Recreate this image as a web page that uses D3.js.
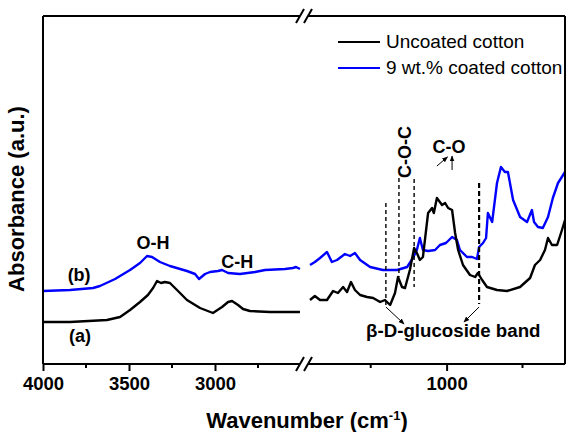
<!DOCTYPE html>
<html>
<head>
<meta charset="utf-8">
<script src="https://cdn.jsdelivr.net/npm/d3@7"></script>
<style>
  body { margin: 0; background: #fff; }
  text { font-family: Arial, "Liberation Sans", sans-serif; }
</style>
</head>
<body>
<svg id="ftir" width="567" height="432"></svg>
<script>
// wavenumber (cm-1) / absorbance (a.u.) pairs
const uncoatedHigh = [
  [4000, 0.42], [3843, 0.42], [3628, 0.44], [3552, 0.47], [3494, 0.54], [3436, 0.62],
  [3390, 0.69], [3360, 0.76], [3337, 0.83], [3314, 0.81], [3291, 0.82], [3262, 0.81],
  [3215, 0.73], [3163, 0.64], [3087, 0.56], [3012, 0.51], [2959, 0.57], [2924, 0.62],
  [2901, 0.63], [2866, 0.59], [2837, 0.55], [2797, 0.53], [2680, 0.52], [2506, 0.52]
];
const coatedHigh = [
  [4000, 0.73], [3843, 0.74], [3709, 0.76], [3669, 0.78], [3581, 0.85], [3494, 0.94],
  [3436, 1.01], [3395, 1.08], [3366, 1.07], [3320, 1.02], [3262, 0.98], [3163, 0.93],
  [3116, 0.90], [3093, 0.85], [3058, 0.90], [3029, 0.92], [2983, 0.93], [2959, 0.94],
  [2924, 0.91], [2855, 0.90], [2767, 0.92], [2709, 0.94], [2593, 0.95], [2547, 0.96],
  [2529, 0.97], [2506, 0.95]
];
const uncoatedLow = [
  [1450, 0.64], [1434, 0.68], [1417, 0.64], [1394, 0.64], [1374, 0.73], [1358, 0.71],
  [1341, 0.77], [1328, 0.72], [1315, 0.82], [1302, 0.74], [1285, 0.69], [1262, 0.67],
  [1242, 0.66], [1219, 0.62], [1203, 0.64], [1186, 0.59], [1170, 0.71], [1160, 0.87],
  [1147, 0.77], [1137, 0.76], [1121, 0.94], [1107, 1.16], [1098, 1.11], [1088, 1.04],
  [1078, 1.07], [1061, 1.51], [1048, 1.56], [1042, 1.51], [1032, 1.66], [1015, 1.59],
  [1005, 1.61], [995, 1.56], [982, 1.54], [972, 1.31], [962, 1.14], [946, 0.99],
  [923, 0.89], [906, 0.87], [897, 0.91], [883, 0.84], [867, 0.77], [834, 0.74],
  [801, 0.73], [758, 0.77], [725, 0.86], [709, 0.99], [692, 1.04], [676, 1.14],
  [666, 1.26], [653, 1.19], [636, 1.19], [620, 1.34], [610, 1.44]
];
const coatedLow = [
  [1450, 0.99], [1434, 1.02], [1417, 1.06], [1394, 1.12], [1378, 1.02], [1361, 1.04],
  [1335, 1.10], [1318, 1.08], [1302, 1.11], [1285, 1.04], [1252, 0.97], [1210, 0.94],
  [1163, 0.94], [1130, 0.97], [1111, 1.06], [1098, 1.14], [1088, 1.26], [1078, 1.14],
  [1061, 1.13], [1038, 1.14], [1022, 1.19], [1002, 1.21], [982, 1.27], [966, 1.24],
  [956, 1.14], [933, 1.07], [916, 1.07], [900, 1.05], [893, 1.17], [880, 1.21],
  [870, 1.26], [864, 1.51], [850, 1.42], [834, 1.81], [821, 1.97], [808, 1.92],
  [798, 1.92], [781, 1.64], [758, 1.47], [735, 1.42], [719, 1.54], [712, 1.42],
  [699, 1.37], [683, 1.36], [666, 1.47], [650, 1.66], [633, 1.81], [610, 1.92]
];

const highTicks = [4000, 3500, 3000];
const highMinor = [3750, 3250, 2750];
const lowTicks = [1000];
const lowMinor = [1250, 750];

const seriesNames = ["Uncoated cotton", "9 wt.% coated cotton"];
const seriesColors = ["#000000", "#0000ff"];

// marker lines: wavenumber, top and bottom absorbance
const bandLines = [
  [1200, 1.61, 0.57],
  [1157, 1.86, 0.87],
  [1107, 1.85, 0.77],
  [893, 1.81, 0.60]
];

const svg = d3.select("#ftir");
const fLeft = 43, fRight = 565, fTop = 16, fBottom = 364;

const xHigh = d3.scaleLinear().domain([4000, 2500]).range([fLeft, 301]);
const xLow = d3.scaleLinear().domain([1450, 610]).range([310, fRight]);
const y = d3.scaleLinear().domain([0, 3.48]).range([fBottom, fTop]);

svg.append("defs").append("marker")
    .attr("id", "arrow")
    .attr("viewBox", "0 0 10 10")
    .attr("refX", 9).attr("refY", 5)
    .attr("markerWidth", 6).attr("markerHeight", 6)
    .attr("orient", "auto")
  .append("path")
    .attr("d", "M0,1 L10,5 L0,9 z")
    .attr("fill", "#000");

// curves
const lineHigh = d3.line().x(d => xHigh(d[0])).y(d => y(d[1]));
const lineLow = d3.line().x(d => xLow(d[0])).y(d => y(d[1]));

[[coatedHigh, lineHigh, 1], [uncoatedHigh, lineHigh, 0],
 [coatedLow, lineLow, 1], [uncoatedLow, lineLow, 0]].forEach(([data, gen, i]) => {
    svg.append("path")
        .attr("d", gen(data))
        .attr("fill", "none")
        .attr("stroke", seriesColors[i])
        .attr("stroke-width", 2.4)
        .attr("stroke-linejoin", "round");
});

// dashed band markers
bandLines.forEach((b, i) => {
    svg.append("line")
        .attr("x1", xLow(b[0])).attr("x2", xLow(b[0]))
        .attr("y1", y(b[1])).attr("y2", y(b[2]))
        .attr("stroke", "#000")
        .attr("stroke-width", i === 3 ? 2.2 : 1.4)
        .attr("stroke-dasharray", i === 3 ? "5,3" : "4,3");
});

// frame with axis break
const frame = svg.append("g").attr("stroke", "#000").attr("stroke-width", 2);
frame.append("line").attr("x1", fLeft).attr("x2", fLeft).attr("y1", fTop).attr("y2", fBottom);
frame.append("line").attr("x1", fRight).attr("x2", fRight).attr("y1", fTop).attr("y2", fBottom);
[fTop, fBottom].forEach(yy => {
    frame.append("line").attr("x1", fLeft).attr("x2", 300).attr("y1", yy).attr("y2", yy);
    frame.append("line").attr("x1", 308).attr("x2", fRight).attr("y1", yy).attr("y2", yy);
    [300, 308].forEach(xx => {
        frame.append("line")
            .attr("x1", xx - 4).attr("x2", xx + 4)
            .attr("y1", yy + 7).attr("y2", yy - 7);
    });
});

// bottom axes
function drawAxis(scale, majors, minors) {
    const g = svg.append("g").attr("transform", `translate(0,${fBottom})`);
    g.call(d3.axisBottom(scale).tickValues(majors).tickSize(7).tickPadding(6).tickFormat(d3.format("d")));
    g.select(".domain").remove();
    g.selectAll(".tick line").attr("stroke-width", 2);
    g.selectAll(".tick text")
        .style("font-size", "18.5px")
        .style("font-weight", "bold")
        .style("font-family", "Arial, 'Liberation Sans', sans-serif")
        .attr("fill", "#000");
    g.selectAll(".minor").data(minors).enter().append("line")
        .attr("class", "minor")
        .attr("x1", d => scale(d)).attr("x2", d => scale(d))
        .attr("y1", 0).attr("y2", 4)
        .attr("stroke", "#000").attr("stroke-width", 2);
}
drawAxis(xHigh, highTicks, highMinor);
drawAxis(xLow, lowTicks, lowMinor);

// axis titles
const xTitle = svg.append("text")
    .attr("x", 307).attr("y", 428)
    .attr("text-anchor", "middle")
    .style("font-size", "22px").style("font-weight", "bold");
xTitle.append("tspan").text("Wavenumber (cm");
xTitle.append("tspan").attr("dy", -8).style("font-size", "13px").text("-1");
xTitle.append("tspan").attr("dy", 8).text(")");

svg.append("text")
    .attr("transform", "translate(24,199) rotate(-90)")
    .attr("text-anchor", "middle")
    .style("font-size", "22px").style("font-weight", "bold")
    .text("Absorbance (a.u.)");

// legend
seriesNames.forEach((name, i) => {
    const ly = 42 + i * 26;
    svg.append("line")
        .attr("x1", 338).attr("x2", 380).attr("y1", ly).attr("y2", ly)
        .attr("stroke", seriesColors[i]).attr("stroke-width", 2);
    svg.append("text")
        .attr("x", 386).attr("y", ly + 6)
        .style("font-size", "19px")
        .text(name);
});

// peak labels
function label(x, yy, txt, size) {
    return svg.append("text")
        .attr("x", x).attr("y", yy)
        .attr("text-anchor", "middle")
        .style("font-size", (size || 18) + "px").style("font-weight", "bold")
        .text(txt);
}
label(xHigh(3360), y(1.15), "O-H");
label(xHigh(2870), y(0.96), "C-H");
label(xHigh(3790), y(0.83), "(b)");
label(xHigh(3785), y(0.22), "(a)");
label(xLow(978), y(0.27), "β-D-glucoside band", 18.7);
label(xLow(992), y(2.11), "C-O");
svg.append("text")
    .attr("transform", `translate(${xLow(1137) + 6},${y(2.12)}) rotate(-90)`)
    .attr("text-anchor", "middle")
    .style("font-size", "18px").style("font-weight", "bold")
    .text("C-O-C");

// arrows
const arrows = [
    [[1200, 0.57], [1140, 0.40]],
    [[893, 0.57], [943, 0.42]],
    [[1032, 1.98], [997, 2.07]],
    [[982, 1.94], [982, 2.08]]
];
arrows.forEach(a => {
    svg.append("line")
        .attr("x1", xLow(a[0][0])).attr("y1", y(a[0][1]))
        .attr("x2", xLow(a[1][0])).attr("y2", y(a[1][1]))
        .attr("stroke", "#000").attr("stroke-width", 1)
        .attr("marker-end", "url(#arrow)");
});
</script>
</body>
</html>
